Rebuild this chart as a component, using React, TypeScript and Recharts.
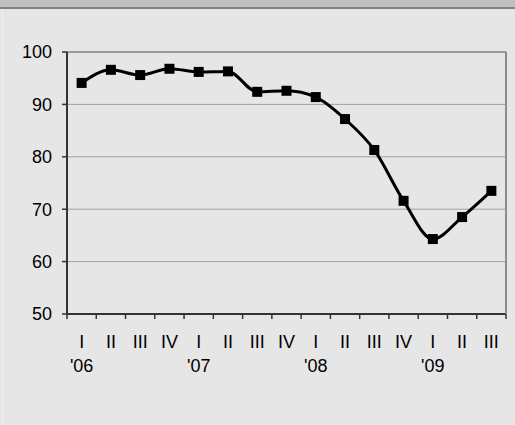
import React from 'react';
import { LineChart, Line, XAxis, YAxis, CartesianGrid, ReferenceLine } from 'recharts';

// quarterly index, 2006 Q1 .. 2009 Q3
const quarters = ['I', 'II', 'III', 'IV', 'I', 'II', 'III', 'IV', 'I', 'II', 'III', 'IV', 'I', 'II', 'III'];
const years = ["'06", '', '', '', "'07", '', '', '', "'08", '', '', '', "'09", '', ''];
const indexValues = [94.1, 96.6, 95.6, 96.8, 96.2, 96.3, 92.4, 92.6, 91.4, 87.2, 81.3, 71.6, 64.3, 68.5, 73.5];
const yTicks = [50, 60, 70, 80, 90, 100];

const W = 515;
const H = 425;
const AXIS_W = 67;
const RIGHT_W = 9;
const FONT = '"Liberation Sans", Arial, sans-serif';
const FS = 18;
const step = (W - AXIS_W - RIGHT_W) / quarters.length;

const data = indexValues.map((v, i) => ({ idx: i, quarter: quarters[i], year: years[i], value: v }));

// eslint-disable-next-line @typescript-eslint/no-explicit-any
const QuarterTick = (props: any) => {
  const { x, y, payload } = props;
  const i = payload.value;
  const last = i === quarters.length - 1;
  return (
    <g>
      <line x1={x - step / 2} y1={y} x2={x - step / 2} y2={y + 5} stroke="#333" strokeWidth={1.5} />
      {last && <line x1={x + step / 2} y1={y} x2={x + step / 2} y2={y + 5} stroke="#333" strokeWidth={1.5} />}
      <text x={x} y={y + 34} textAnchor="middle" fontSize={FS} fontFamily={FONT} fill="#000">
        {quarters[i]}
      </text>
      {years[i] && (
        <text x={x} y={y + 58} textAnchor="middle" fontSize={FS} fontFamily={FONT} fill="#000">
          {years[i]}
        </text>
      )}
    </g>
  );
};

// eslint-disable-next-line @typescript-eslint/no-explicit-any
const SquareDot = (p: any) => (
  <rect key={p.index} x={p.cx - 5} y={p.cy - 5} width={10} height={10} fill="#000" />
);

export default function App() {
  return (
    <div style={{ position: 'absolute', left: 0, top: 0, width: W, height: H, background: '#e6e6e6', overflow: 'hidden' }}>
      <div style={{ position: 'absolute', left: 0, top: 0, width: W, height: 7, background: '#c0c0c0', borderBottom: '2px solid #808080' }} />
      <div style={{ position: 'absolute', left: 2, top: 9, width: 1, height: H - 9, background: '#efefef' }} />
      <div style={{ position: 'absolute', left: 0, top: 0 }}>
        <LineChart width={W} height={H} data={data} margin={{ top: 52, right: 0, bottom: 0, left: 0 }}>
          <CartesianGrid vertical={false} stroke="#a0a0a0" strokeWidth={1} />
          <XAxis
            dataKey="idx"
            type="category"
            scale="band"
            height={111}
            interval={0}
            tickSize={0}
            tickMargin={0}
            tickLine={false}
            axisLine={{ stroke: '#333', strokeWidth: 2 }}
            tick={<QuarterTick />}
          />
          <YAxis
            width={AXIS_W}
            domain={[50, 100]}
            ticks={yTicks}
            interval={0}
            tickSize={5}
            tickMargin={10}
            axisLine={{ stroke: '#333', strokeWidth: 2 }}
            tickLine={{ stroke: '#333', strokeWidth: 1.5 }}
            tick={{ fontSize: FS, fontFamily: FONT, fill: '#000' }}
          />
          <YAxis
            yAxisId="r"
            orientation="right"
            width={RIGHT_W}
            domain={[50, 100]}
            tick={false}
            tickLine={false}
            axisLine={{ stroke: '#8c8c8c', strokeWidth: 2 }}
          />
          <ReferenceLine y={100} stroke="#8c8c8c" strokeWidth={1.5} />
          <Line
            type="monotone"
            dataKey="value"
            stroke="#000"
            strokeWidth={3}
            dot={SquareDot}
            activeDot={false}
            isAnimationActive={false}
          />
        </LineChart>
      </div>
    </div>
  );
}
